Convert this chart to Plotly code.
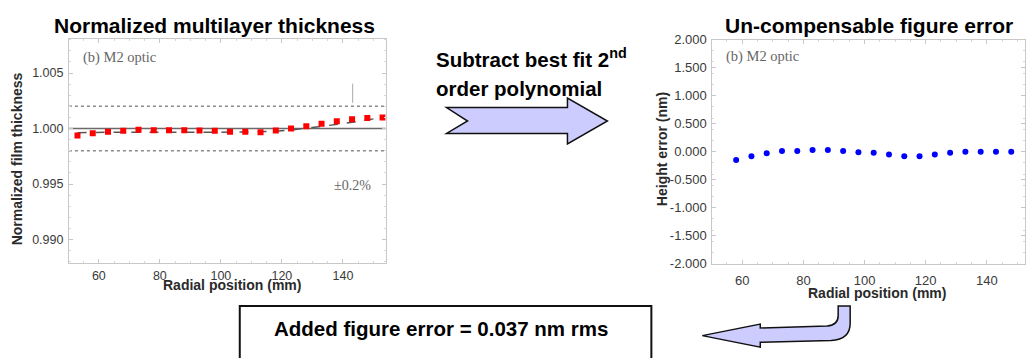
import plotly.graph_objects as go

W, H = 1026, 358

# ---------------- data ----------------
thick_x = [53, 58, 63, 68, 73, 78, 83, 88, 93, 98, 103, 108, 113, 118, 123, 128, 133, 138, 143, 148, 153]
thick_y = [0.99937, 0.99957, 0.99972, 0.99980, 0.99988, 0.99985, 0.99985, 0.99985, 0.99982, 0.99980,
           0.99970, 0.99970, 0.99966, 0.99982, 1.00000, 1.00020, 1.00043, 1.00066, 1.00083, 1.00095, 1.00100]
fit_x = [53, 65, 80, 95, 110, 120, 130, 140, 153]
fit_y = [0.99962, 0.99966, 0.99967, 0.99967, 0.99970, 0.99980, 1.00010, 1.00045, 1.00100]
nominal = 1.000
tolerance = [1.002, 0.998]

err_x = [58, 63, 68, 73, 78, 83, 88, 93, 98, 103, 108, 113, 118, 123, 128, 133, 138, 143, 148]
err_y = [-0.15, -0.08, -0.03, 0.01, 0.01, 0.03, 0.03, 0.01, -0.01, -0.02,
         -0.05, -0.08, -0.08, -0.05, -0.02, 0.00, 0.00, 0.00, 0.00]

left_xticks = [60, 80, 100, 120, 140]
left_yticks = [0.990, 0.995, 1.000, 1.005]
right_yticks = [-2.0, -1.5, -1.0, -0.5, 0.0, 0.5, 1.0, 1.5, 2.0]
left_yticklabels = [f"{v:.3f}" for v in left_yticks]
right_yticklabels = [f"{v:.3f}" for v in right_yticks]

# ---------------- helpers ----------------
def px(x):
    return x / W

def py(y):
    return 1 - y / H

def path(cmds):
    out = []
    for c in cmds:
        if isinstance(c, str):
            out.append(c)
        else:
            out.append(f"{px(c[0]):.5f},{py(c[1]):.5f}")
    return " ".join(out)

SANS = "Liberation Sans, Arial, sans-serif"
SERIF = "Liberation Serif, Times New Roman, serif"

fig = go.Figure()

# left chart traces
fig.add_trace(go.Scatter(x=fit_x, y=fit_y, mode="lines",
                         line=dict(color="#555", width=1.5, dash="dash", shape="spline"),
                         xaxis="x", yaxis="y", showlegend=False, hoverinfo="skip"))
fig.add_trace(go.Scatter(x=thick_x, y=thick_y, mode="markers",
                         marker=dict(color="#ff0000", size=6, symbol="square"),
                         xaxis="x", yaxis="y", showlegend=False))
# right chart trace
fig.add_trace(go.Scatter(x=err_x, y=err_y, mode="markers",
                         marker=dict(color="#0000ff", size=6, symbol="circle"),
                         xaxis="x2", yaxis="y2", showlegend=False))

axis_common = dict(showgrid=False, zeroline=False, showline=True, linecolor="#c8c8c8", linewidth=1,
                   mirror="ticks", ticks="inside", ticklen=4, tickcolor="#c8c8c8",
                   minor=dict(ticks="inside", ticklen=2, tickcolor="#d8d8d8"))

LTF = dict(family=SANS, size=12.5, color="#3a3a3a")
RTF = dict(family=SANS, size=13, color="#3a3a3a")

fig.update_layout(
    width=W, height=H, margin=dict(l=0, r=0, t=0, b=0),
    paper_bgcolor="white", plot_bgcolor="white",
    xaxis=dict(domain=[px(69), px(386)], range=[50.2, 154], tickvals=left_xticks,
               tickfont=LTF, anchor="y", ticklabelstandoff=1, **axis_common),
    yaxis=dict(domain=[py(267), py(33)], range=[0.9879, 1.0081], tickvals=left_yticks,
               ticktext=left_yticklabels, tickfont=LTF, anchor="x", ticklabelstandoff=2, **axis_common),
    xaxis2=dict(domain=[px(713), 1.0], range=[50.2, 152.5], tickvals=left_xticks,
                tickfont=RTF, anchor="y2", ticklabelstandoff=5, **axis_common),
    yaxis2=dict(domain=[py(268), py(34)], range=[-2.0, 2.0], tickvals=right_yticks,
                ticktext=right_yticklabels, tickfont=RTF, anchor="x2",
                ticklabelstandoff=2, **axis_common),
)

# reference lines on left chart
fig.add_shape(type="line", xref="x domain", yref="y", x0=0, x1=1, y0=nominal, y1=nominal,
              line=dict(color="#6a6a6a", width=1.6), layer="below")
for t in tolerance:
    fig.add_shape(type="line", xref="x domain", yref="y", x0=0, x1=1, y0=t, y1=t,
                  line=dict(color="#8a8a8a", width=1.5, dash="dot"), layer="below")

# small vertical marker above +0.2% line
fig.add_shape(type="line", xref="paper", yref="paper", x0=px(353), x1=px(353), y0=py(80), y1=py(100),
              line=dict(color="#aaaaaa", width=1))

# big right arrow
fig.add_shape(type="path", xref="paper", yref="paper",
              path=path(["M", (447, 105), "L", (568, 105), "L", (568, 95), "L", (608, 119), "L", (568, 143),
                         "L", (568, 132), "L", (447, 132), "L", (468, 119), "Z"]),
              fillcolor="#ccccff", line=dict(color="#111", width=1.5))

# bent return arrow
fig.add_shape(type="path", xref="paper", yref="paper",
              path=path(["M", (703, 343), "L", (761, 331), "L", (761, 335), "L", (828, 333),
                         "Q", (839, 332), (839, 322), "L", (839, 312), "L", (851, 312), "L", (851, 330),
                         "Q", (851, 347), (832, 348), "L", (761, 350), "L", (761, 355), "Z"]),
              fillcolor="#ccccff", line=dict(color="#111", width=1.5))

# result box
fig.add_shape(type="rect", xref="paper", yref="paper", x0=px(240), x1=px(652), y0=py(372), y1=py(312),
              line=dict(color="#111", width=2), fillcolor="rgba(0,0,0,0)")

def ann(text, x, y, size, family=SANS, color="#000", bold=False, angle=0, xanchor="center"):
    t = f"<b>{text}</b>" if bold else text
    fig.add_annotation(text=t, x=px(x), y=py(y), xref="paper", yref="paper", showarrow=False,
                       font=dict(family=family, size=size, color=color), textangle=angle,
                       xanchor=xanchor, yanchor="middle")

ann("Normalized multilayer thickness", 215, 19, 21, bold=True)
ann("Un-compensable figure error", 870, 19, 21, bold=True)
ann("Subtract best fit 2<sup>nd</sup>", 434, 53, 20.5, bold=True, xanchor="left")
ann("order polynomial", 434, 85, 20.5, bold=True, xanchor="left")
ann("Added figure error = 0.037 nm rms", 441, 336, 20.5, bold=True)

ann("Radial position (mm)", 232, 290, 14, color="#2a2a2a", bold=True)
ann("Radial position (mm)", 878, 299, 14, color="#2a2a2a", bold=True)
ann("Normalized film thickness", 17, 158, 14, color="#2a2a2a", bold=True, angle=-90)
ann("Height error (nm)", 662, 148, 14, color="#2a2a2a", bold=True, angle=-90)

ann("(b) M2 optic", 81, 53, 14.5, family=SERIF, color="#666", xanchor="left")
ann("(b) M2 optic", 725, 52, 14.5, family=SERIF, color="#666", xanchor="left")
ann("±0.2%", 332, 186, 14, family=SERIF, color="#666", xanchor="left")

# remove the default page margin so the figure sits at the window's top-left corner
fig.write_html("out.html", config={"displayModeBar": False},
               post_script="document.body.style.margin='0';document.body.style.overflow='hidden';")
